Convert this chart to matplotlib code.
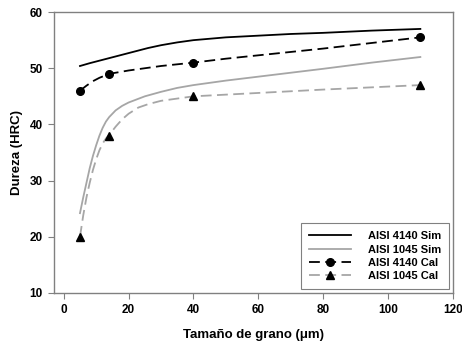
import matplotlib
matplotlib.use('Agg')
import matplotlib.pyplot as plt

plt.rcParams['font.family'] = ['Liberation Sans', 'DejaVu Sans']
plt.rcParams['font.weight'] = 'bold'

# simulated curves
sim4140_x = [5, 8, 10, 14, 18, 22, 26, 30, 35, 40, 50, 60, 70, 80, 95, 110]
sim4140_y = [50.4, 50.9, 51.2, 51.8, 52.4, 53.0, 53.6, 54.1, 54.6, 55.0, 55.5, 55.8, 56.1, 56.3, 56.7, 57.0]
sim1045_x = [5, 6, 7, 8, 9, 10, 11, 12, 13, 14, 16, 18, 20, 25, 30, 35, 40, 50, 60, 70, 80, 95, 110]
sim1045_y = [24.2, 27.0, 29.6, 32.2, 34.4, 36.3, 38.0, 39.4, 40.5, 41.3, 42.5, 43.3, 43.9, 45.0, 45.8, 46.5, 47.0, 47.8, 48.5, 49.2, 49.9, 51.0, 52.0]

# calculated points and the smooth dashed curve through them
cal4140_x = [5, 14, 40, 110]
cal4140_y = [46, 49, 51, 55.5]
cal4140_cx = [5, 7, 9, 11, 14, 17, 20, 25, 30, 35, 40, 50, 60, 70, 80, 95, 110]
cal4140_cy = [46, 46.9, 47.7, 48.3, 49, 49.3, 49.6, 50.0, 50.4, 50.7, 51, 51.7, 52.3, 52.9, 53.5, 54.5, 55.5]
cal1045_x = [5, 14, 40, 110]
cal1045_y = [20, 38, 45, 47]
cal1045_cx = [5, 6, 7, 8, 9, 10, 11, 12, 13, 14, 16, 18, 20, 23, 26, 30, 35, 40, 50, 60, 70, 80, 95, 110]
cal1045_cy = [20, 23.8, 27.0, 29.6, 31.9, 33.8, 35.4, 36.6, 37.5, 38.1, 39.6, 40.9, 41.9, 43.0, 43.6, 44.2, 44.6, 45, 45.3, 45.6, 45.9, 46.2, 46.6, 47]

grey = '#a6a6a6'
fig = plt.figure(figsize=(4.62, 3.45), dpi=100)
ax = fig.add_axes([0.117, 0.151, 0.863, 0.814])

ax.plot(sim4140_x, sim4140_y, color='black', lw=1.3)
ax.plot(sim1045_x, sim1045_y, color=grey, lw=1.3)
ax.plot(cal4140_cx, cal4140_cy, color='black', lw=1.3, dashes=(6, 3))
ax.plot(cal4140_x, cal4140_y, 'o', color='black', ms=5.5)
ax.plot(cal1045_cx, cal1045_cy, color=grey, lw=1.3, dashes=(6, 3))
ax.plot(cal1045_x, cal1045_y, '^', color='black', ms=5.5)

# legend handles
h1, = ax.plot([], [], color='black', lw=1.3, label='AISI 4140 Sim')
h2, = ax.plot([], [], color=grey, lw=1.3, label='AISI 1045 Sim')
h3, = ax.plot([], [], color='black', lw=1.3, dashes=(6, 3), marker='o', ms=5.5, label='AISI 4140 Cal')
h4, = ax.plot([], [], color=grey, lw=1.3, dashes=(6, 3), marker='^', ms=5.5, mfc='black', mec='black', label='AISI 1045 Cal')
leg = ax.legend(handles=[h1, h2, h3, h4], loc='lower right', fontsize=8, fancybox=False,
                edgecolor='#808080', framealpha=1, handlelength=3.8, borderaxespad=0.35,
                labelspacing=0.3, handletextpad=1.5, borderpad=0.7)
leg.get_frame().set_linewidth(0.8)

ax.set_xlim(-3, 120)
ax.set_ylim(10, 60)
ax.set_xticks([0, 20, 40, 60, 80, 100, 120])
ax.set_yticks([10, 20, 30, 40, 50, 60])
for s in ax.spines.values():
    s.set_color('#808080')
    s.set_linewidth(1)
ax.tick_params(direction='out', length=4, color='#808080', labelsize=8.5, pad=4)
for lab in ax.get_xticklabels() + ax.get_yticklabels():
    lab.set_fontweight('bold')
ax.set_xlabel('Tamaño de grano (μm)', fontsize=9.5, fontweight='bold', labelpad=9)
ax.set_ylabel('Dureza (HRC)', fontsize=9.5, fontweight='bold', labelpad=5)

fig.savefig('out.png', dpi=100)
